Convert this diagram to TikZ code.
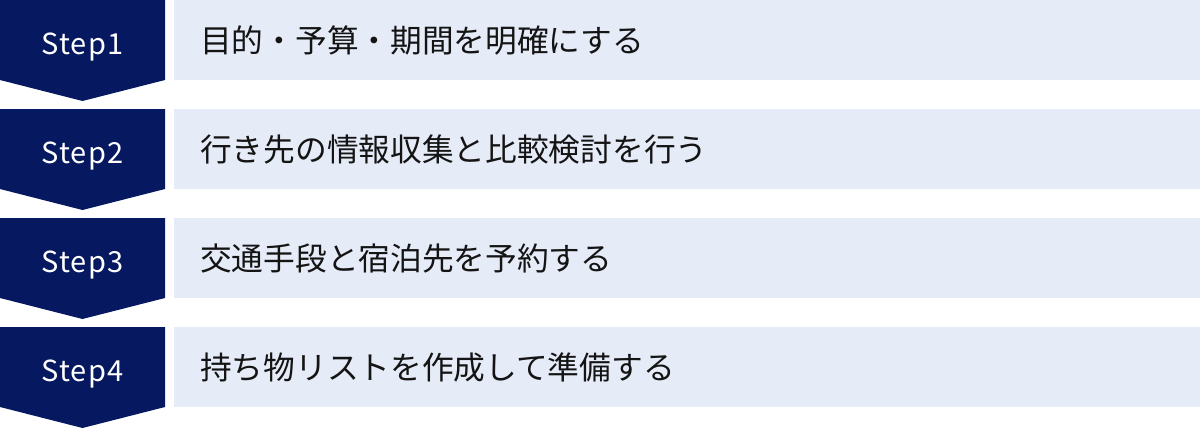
\documentclass[tikz,border=0pt]{standalone}
\usepackage{fontspec}
\newfontfamily\jpfont{Noto Sans CJK JP}
\newfontfamily\stepfont[LetterSpace=4]{Noto Sans CJK JP}
\definecolor{navy}{RGB}{5,24,96}
\definecolor{lightbar}{RGB}{230,235,248}
\definecolor{txt}{RGB}{20,20,20}
\tikzset{
  stepshape/.style={fill=navy,draw=none},
  barbox/.style={fill=lightbar,draw=none},
  steplabel/.style={text=white,font=\stepfont\fontsize{29}{32}\selectfont,inner sep=0pt,anchor=base},
  barlabel/.style={text=txt,font=\jpfont\fontsize{31.7}{36}\selectfont,inner sep=0pt,anchor=base west}
}
\begin{document}
\begin{tikzpicture}[x=1pt,y=-1pt]
\useasboundingbox (0,0) rectangle (1200,429);
\foreach \i/\lab/\txt in {0/Step1/目的・予算・期間を明確にする,1/Step2/行き先の情報収集と比較検討を行う,2/Step3/交通手段と宿泊先を予約する,3/Step4/持ち物リストを作成して準備する}{
  \pgfmathsetmacro{\yo}{\i*109}
  \begin{scope}[yshift={-\yo pt}]
    \fill[stepshape] (0,0) -- (165,0) -- (165,80) -- (82.5,101) -- (0,80) -- cycle;
    \fill[barbox] (174,0) rectangle (1200,79.5);
    \node[steplabel] (s\i) at (82.5,54) {\lab};
    \node[barlabel] (t\i) at (200,52.5) {\txt};
  \end{scope}
}
\end{tikzpicture}
\end{document}
